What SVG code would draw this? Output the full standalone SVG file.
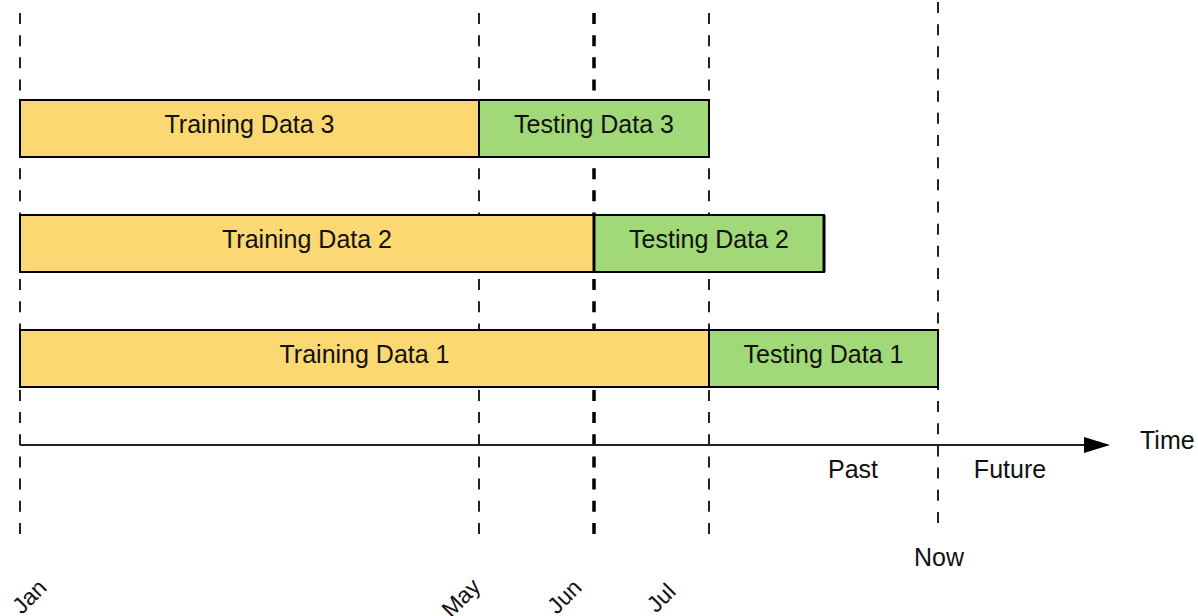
<svg xmlns="http://www.w3.org/2000/svg" width="1198" height="616" viewBox="0 0 1198 616">
  <style>
    text { font-family: "Liberation Sans", Arial, sans-serif; fill: #111; }
    .lbl { font-size: 25px; text-anchor: middle; }
    .mon { font-size: 23px; text-anchor: end; }
    .grid { stroke: #222; stroke-width: 2; stroke-dasharray: 11 11.17; fill: none; }
    .train { fill: #FCD872; stroke: #000; stroke-width: 2; }
    .test { fill: #A1D878; stroke: #000; stroke-width: 2; }
  </style>
  <rect width="1198" height="616" fill="#fff"/>
  <g id="gridlines">
    <line class="grid" x1="20" y1="13" x2="20" y2="534"/>
    <line class="grid" x1="479" y1="13" x2="479" y2="534"/>
    <line class="grid" x1="594" y1="13" x2="594" y2="534" style="stroke:#000;stroke-width:3.5"/>
    <line class="grid" x1="709" y1="13" x2="709" y2="534"/>
    <line class="grid" x1="938" y1="2" x2="938" y2="524"/>
  </g>
  <g id="row3">
    <rect class="train" x="20" y="100" width="459" height="57"/>
    <rect class="test" x="479" y="100" width="230" height="57"/>
    <text class="lbl" x="249.5" y="133">Training Data 3</text>
    <text class="lbl" x="594" y="133">Testing Data 3</text>
  </g>
  <g id="row2">
    <rect class="train" x="20" y="215" width="574" height="57"/>
    <rect class="test" x="594" y="215" width="230" height="57"/>
    <line x1="594" y1="215" x2="594" y2="272" stroke="#000" stroke-width="3"/>
    <line x1="824" y1="215" x2="824" y2="272" stroke="#000" stroke-width="3"/>
    <text class="lbl" x="307" y="248">Training Data 2</text>
    <text class="lbl" x="709" y="248">Testing Data 2</text>
  </g>
  <g id="row1">
    <rect class="train" x="20" y="330" width="689" height="57"/>
    <rect class="test" x="709" y="330" width="229" height="57"/>
    <text class="lbl" x="364.5" y="363">Training Data 1</text>
    <text class="lbl" x="823.5" y="363">Testing Data 1</text>
  </g>
  <g id="connectors">
    <line x1="20" y1="445" x2="1086" y2="445" stroke="#222" stroke-width="2"/>
    <polygon points="1084,437 1110,445 1084,453" fill="#000"/>
  </g>
  <g id="axis-labels">
    <text x="1140" y="449" style="font-size:25px">Time</text>
    <text class="lbl" x="853" y="478">Past</text>
    <text class="lbl" x="1010" y="478">Future</text>
    <text class="lbl" x="939" y="566">Now</text>
    <text class="mon" transform="translate(48,589) rotate(-45)">Jan</text>
    <text class="mon" transform="translate(482,588) rotate(-45)">May</text>
    <text class="mon" transform="translate(583,589) rotate(-45)">Jun</text>
    <text class="mon" transform="translate(677,593) rotate(-45)">Jul</text>
  </g>
</svg>
